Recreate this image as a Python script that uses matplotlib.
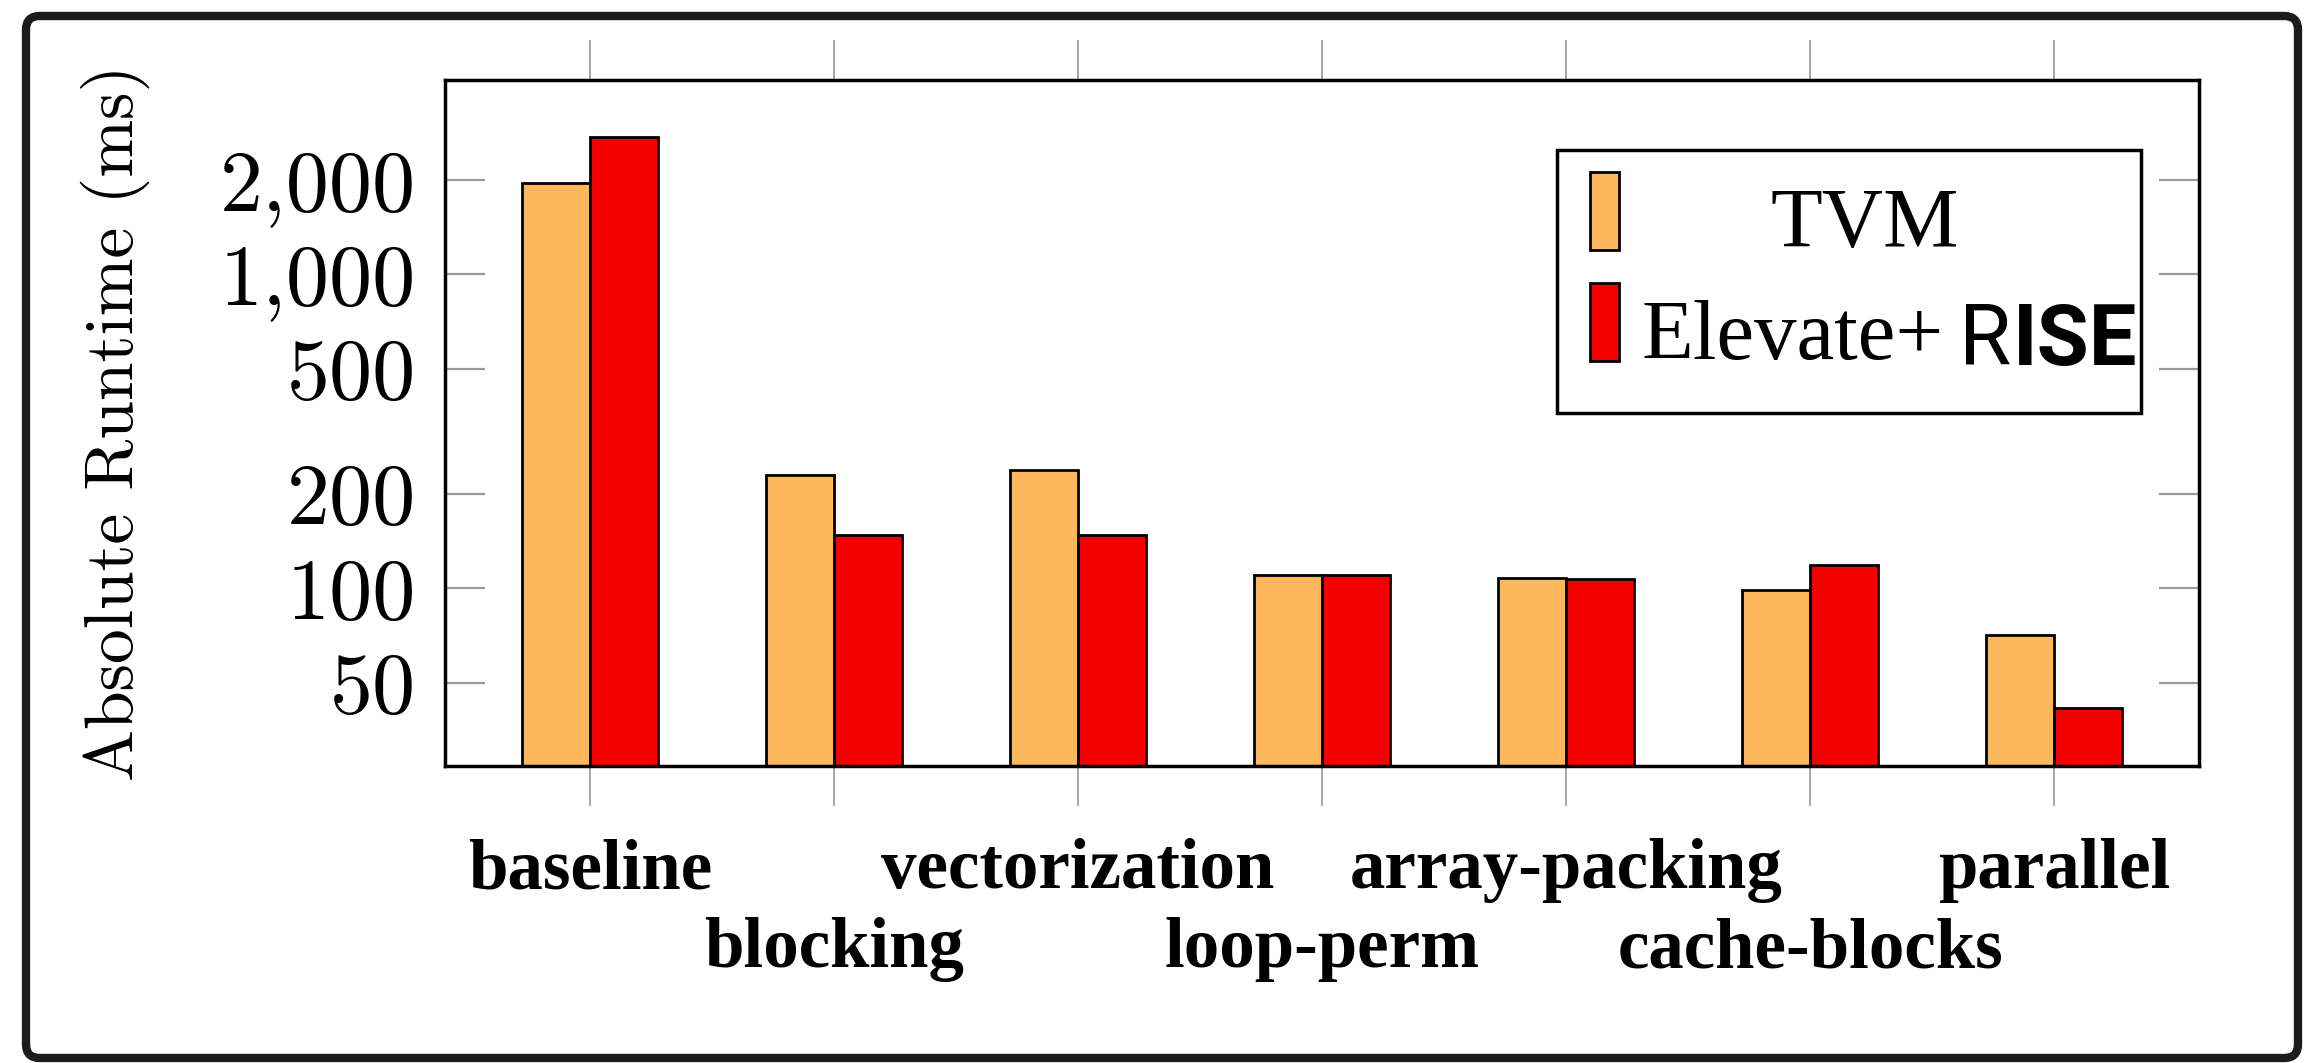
import numpy as np
import matplotlib.pyplot as plt
from matplotlib.patches import FancyBboxPatch, Rectangle
from matplotlib.ticker import NullLocator

# data (ms, log scale)
categories = ["baseline", "blocking", "vectorization", "loop-perm",
              "array-packing", "cache-blocks", "parallel"]
tvm = [1960, 230, 238, 110, 108, 99, 71]
elevate_rise = [2740, 148, 148, 110, 107, 119, 41.5]
yticks = [50, 100, 200, 500, 1000, 2000]
ytick_labels = ["50", "100", "200", "500", "1,000", "2,000"]

orange = "#FDB75C"
red = "#F40000"
serif = "Liberation Serif"

W, H = 2305, 1063
fig = plt.figure(figsize=(W / 100, H / 100), dpi=100)
ax = fig.add_axes([445 / W, 1 - 766 / H, (2199 - 445) / W, (766 - 80) / H])

x = np.arange(len(categories))
bw = 0.28
ax.bar(x - bw / 2, tvm, bw, color=orange, edgecolor="black", linewidth=2, zorder=2)
ax.bar(x + bw / 2, elevate_rise, bw, color=red, edgecolor="black", linewidth=2, zorder=2)

ax.set_yscale("log")
ax.set_ylim(27.2, 4160)
ax.set_xlim(-0.594, 6.594)

# y axis: computer modern labels, gray inward ticks on both sides
ax.set_yticks(yticks, ytick_labels)
ax.yaxis.set_minor_locator(NullLocator())
ax.tick_params(axis="y", which="major", direction="in", length=29, width=1.6,
               color="#9a9a9a", right=True, labelsize=62, pad=21)
for t in ax.get_yticklabels():
    t.set_fontfamily("cmr10")

# x axis: two staggered rows of bold labels (even = major, odd = minor)
ax.set_xticks(x[::2], categories[::2])
ax.set_xticks(x[1::2], categories[1::2], minor=True)
ax.tick_params(axis="x", which="both", direction="out", length=29, width=1.2,
               color="#9a9a9a", top=True, labelsize=51)
ax.tick_params(axis="x", which="major", pad=23)
ax.tick_params(axis="x", which="minor", pad=80)
for t in ax.get_xticklabels() + ax.get_xticklabels(minor=True):
    t.set_fontfamily(serif)
    t.set_fontweight("bold")

for s in ax.spines.values():
    s.set_linewidth(2.5)

fig.text(115 / W, 1 - 423 / H, "Absolute Runtime (ms)", rotation=90,
         ha="center", va="center", fontsize=50, fontfamily="cmr10")

# legend box
ax.add_patch(Rectangle((0.634, 0.5146), 0.333, 0.3834, transform=ax.transAxes,
                       facecolor="white", edgecolor="black", linewidth=2.5, zorder=5))
ax.add_patch(Rectangle((0.6528, 0.752), 0.0165, 0.114, transform=ax.transAxes,
                       facecolor=orange, edgecolor="black", linewidth=2, zorder=6))
ax.add_patch(Rectangle((0.6528, 0.590), 0.0165, 0.114, transform=ax.transAxes,
                       facecolor=red, edgecolor="black", linewidth=2, zorder=6))
ax.text(0.8096, 0.756, "TVM", transform=ax.transAxes, ha="center", va="baseline",
        fontsize=61, fontfamily=serif, zorder=7)
elev = ax.text(0.6824, 0.593, "Elevate+", transform=ax.transAxes, ha="left",
               va="baseline", fontsize=61, fontfamily=serif, zorder=7)
r = ax.annotate("R", xy=(1, 0.585), xycoords=(elev, "axes fraction"),
                xytext=(11, 0), textcoords="offset points", ha="left", va="baseline",
                fontsize=61, fontfamily="Roboto", fontweight="normal", zorder=7)
ax.annotate("ISE", xy=(1, 0.585), xycoords=(r, "axes fraction"),
            xytext=(1, 0), textcoords="offset points", ha="left", va="baseline",
            fontsize=61, fontfamily="Roboto", fontweight="bold", zorder=7)

# rounded frame around the whole picture
frame = FancyBboxPatch((26 / W, 1 - 1058 / H), (2298 - 26) / W, (1058 - 16) / H,
                       boxstyle="round,pad=0,rounding_size=0.006",
                       mutation_aspect=W / H, transform=fig.transFigure,
                       fill=False, linewidth=6, edgecolor="#1c1c1c")
fig.add_artist(frame)

fig.savefig("out.png", dpi=100)
